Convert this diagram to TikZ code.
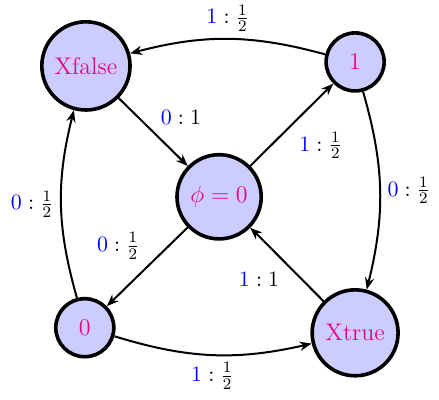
\documentclass[tikz,border=0pt]{standalone}
\usepackage{amsmath,amssymb}
\usepackage{xcolor}
\usepackage{tikz}
\usetikzlibrary{arrows.meta,positioning}
\definecolor{statetext}{RGB}{230,0,140}
\tikzset{
  state/.style={
    circle, draw=black, fill=blue!20, line width=1.8pt,
    text=statetext, font=\large, inner sep=1pt
  },
  trans/.style={-{Stealth[length=6pt,width=4.6pt]}, line width=1pt, color=black},
  lbl/.style={font=\fontsize{10.95}{13.6}\selectfont, text=black},
}
\newcommand{\sym}[1]{\textcolor{blue}{#1}}

\begin{document}
\begin{tikzpicture}
  \useasboundingbox (0,0) rectangle (7.714,7.028);

  % States
  \node[state, minimum size=1.55cm] (xfalse) at (1.51,5.87) {Xfalse};
  \node[state, minimum size=1.02cm] (one)    at (6.24,5.94) {1};
  \node[state, minimum size=1.48cm] (phi)    at (3.85,3.57) {$\phi = 0$};
  \node[state, minimum size=1.02cm] (zero)   at (1.49,1.27) {0};
  \node[state, minimum size=1.51cm] (xtrue)  at (6.24,1.18) {Xtrue};

  % Outer transitions
  \draw[trans] (one) to[bend right=15]
        node[lbl, above]{$\sym{1} : \frac{1}{2}$} (xfalse);
  \draw[trans] (one) to[bend left=15]
        node[lbl, right]{$\sym{0} : \frac{1}{2}$} (xtrue);
  \draw[trans] (zero) to[bend left=15]
        node[lbl, left]{$\sym{0} : \frac{1}{2}$} (xfalse);
  \draw[trans] (zero) to[bend right=15]
        node[lbl, below]{$\sym{1} : \frac{1}{2}$} (xtrue);

  % Inner transitions
  \draw[trans] (xfalse) -- node[lbl, above right]{$\sym{0} : 1$} (phi);
  \draw[trans] (phi) -- node[lbl, below right]{$\sym{1} : \frac{1}{2}$} (one);
  \draw[trans] (xtrue) -- node[lbl, below left]{$\sym{1} : 1$} (phi);
  \draw[trans] (phi) -- node[lbl, above left]{$\sym{0} : \frac{1}{2}$} (zero);

\end{tikzpicture}
\end{document}
